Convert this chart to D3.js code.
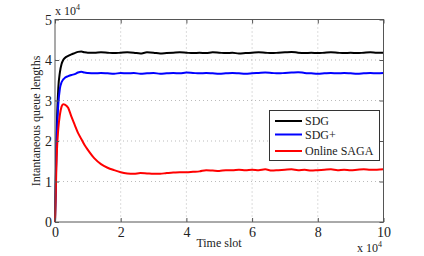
<!DOCTYPE html>
<html><head><meta charset="utf-8">
<script src="https://cdn.jsdelivr.net/npm/d3@7"></script>
<style>body{margin:0;background:#fff}svg{display:block}text{font-family:"Liberation Serif","DejaVu Serif",serif !important;fill:#222}</style>
</head><body>
<svg id="c" width="424" height="256"></svg>
<script>
const timeSlots = [0,0.05,0.1,0.15,0.2,0.25,0.3,0.4,0.5,0.6,0.7,0.8,0.9,1.0,1.2,1.4,1.6,1.8,2.0,2.2,2.4,2.6,2.8,3.0,3.2,3.4,3.6,3.8,4.0,4.2,4.4,4.6,4.8,5.0,5.2,5.4,5.6,5.8,6.0,6.2,6.4,6.6,6.8,7.0,7.2,7.4,7.6,7.8,8.0,8.2,8.4,8.6,8.8,9.0,9.2,9.4,9.6,9.8,10.0];
const sdg = [0,2.2,3.3,3.7,3.9,4.0,4.05,4.1,4.14,4.17,4.2,4.21,4.19,4.18,4.18,4.19,4.18,4.17,4.18,4.19,4.18,4.16,4.19,4.18,4.16,4.17,4.18,4.19,4.18,4.17,4.18,4.17,4.19,4.18,4.17,4.18,4.16,4.17,4.18,4.19,4.18,4.17,4.18,4.19,4.2,4.18,4.17,4.18,4.17,4.18,4.19,4.18,4.17,4.18,4.17,4.18,4.19,4.18,4.18];
const sdgPlus = [0,2.0,2.9,3.3,3.45,3.52,3.56,3.6,3.63,3.65,3.69,3.71,3.69,3.68,3.67,3.68,3.67,3.66,3.68,3.67,3.68,3.66,3.67,3.68,3.66,3.67,3.68,3.67,3.69,3.68,3.67,3.68,3.67,3.66,3.67,3.68,3.67,3.66,3.67,3.68,3.69,3.68,3.67,3.68,3.69,3.7,3.68,3.67,3.66,3.67,3.68,3.67,3.68,3.67,3.66,3.67,3.68,3.67,3.68];
const onlineSaga = [0,1.6,2.3,2.65,2.85,2.91,2.9,2.82,2.6,2.4,2.2,2.05,1.9,1.78,1.57,1.43,1.34,1.28,1.23,1.2,1.19,1.21,1.2,1.19,1.19,1.21,1.22,1.23,1.23,1.24,1.25,1.28,1.27,1.26,1.28,1.28,1.29,1.28,1.29,1.28,1.30,1.27,1.28,1.29,1.3,1.28,1.29,1.27,1.28,1.29,1.3,1.28,1.29,1.28,1.29,1.3,1.29,1.29,1.3];
const seriesNames = ["SDG","SDG+","Online SAGA"];
const seriesColors = ["#000000","#0000ff","#ff0000"];
const xTicks = [0,2,4,6,8,10];
const yTicks = [0,1,2,3,4,5];

const svg = d3.select("#c");
const L=55,R=383.5,T=19.5,B=222;
const x = d3.scaleLinear().domain([0,10]).range([L,R]);
const y = d3.scaleLinear().domain([0,5]).range([B,T]);
const FF = '"Liberation Serif", "DejaVu Serif", serif';

// grid
const g = svg.append("g");
g.selectAll(".gx").data(xTicks.slice(1,-1)).enter().append("line")
 .attr("x1",d=>x(d)).attr("x2",d=>x(d)).attr("y1",T).attr("y2",B)
 .attr("stroke","#aaa").attr("stroke-width",0.8).attr("stroke-dasharray","1,3");
g.selectAll(".gy").data(yTicks.slice(1,-1)).enter().append("line")
 .attr("y1",d=>y(d)).attr("y2",d=>y(d)).attr("x1",L).attr("x2",R)
 .attr("stroke","#aaa").attr("stroke-width",0.8).attr("stroke-dasharray","1,3");

// lines
const all = [sdg, sdgPlus, onlineSaga];
const line = d3.line().x((d,i)=>x(timeSlots[i])).y(d=>y(d)).curve(d3.curveMonotoneX);
all.forEach((s,k)=>{
  svg.append("path").datum(s).attr("d",line).attr("fill","none")
    .attr("stroke",seriesColors[k]).attr("stroke-width",2).attr("stroke-linejoin","round");
});

// axes box
svg.append("rect").attr("x",L).attr("y",T).attr("width",R-L).attr("height",B-T)
 .attr("fill","none").attr("stroke","#555").attr("stroke-width",1);

const xb = d3.axisBottom(x).tickValues(xTicks).tickSize(-4).tickFormat(d3.format("d"));
const xa = svg.append("g").attr("transform",`translate(0,${B})`).call(xb);
const xt = d3.axisTop(x).tickValues(xTicks).tickSize(-4).tickFormat("");
svg.append("g").attr("transform",`translate(0,${T})`).call(xt);
const yl = d3.axisLeft(y).tickValues(yTicks).tickSize(-4).tickFormat(d3.format("d"));
const ya = svg.append("g").attr("transform",`translate(${L},0)`).call(yl);
const yr = d3.axisRight(y).tickValues(yTicks).tickSize(-4).tickFormat("");
svg.append("g").attr("transform",`translate(${R},0)`).call(yr);
svg.selectAll(".domain").remove();
svg.selectAll("g").attr("font-family",FF);
svg.selectAll(".tick line").attr("stroke","#555");
xa.selectAll("text").attr("font-size",14).attr("dy",null).attr("y",15).attr("fill","#222");
ya.selectAll("text").attr("font-size",14).attr("x",-3).attr("dy","0.35em").attr("fill","#222");

// multipliers
const m1 = svg.append("text").attr("x",55).attr("y",15).attr("font-size",12);
m1.append("tspan").text("x 10");
m1.append("tspan").attr("font-size",8).attr("dy",-5).text("4");
const m2 = svg.append("text").attr("x",357).attr("y",252).attr("font-size",12);
m2.append("tspan").text("x 10");
m2.append("tspan").attr("font-size",8).attr("dy",-5).text("4");

// labels
svg.append("text").attr("x",219).attr("y",247).attr("text-anchor","middle").attr("font-size",12).text("Time slot");
svg.append("text").attr("transform","translate(40,121) rotate(-90)").attr("text-anchor","middle").attr("font-size",12).text("Intantaneous queue lengths");

// legend
const lg = svg.append("g");
lg.append("rect").attr("x",269.5).attr("y",110.5).attr("width",110).attr("height",50).attr("fill","#fff").attr("stroke","#333").attr("stroke-width",1);
const ly = [121,134.5,151];
seriesNames.forEach((n,k)=>{
  lg.append("line").attr("x1",275).attr("x2",302).attr("y1",ly[k]).attr("y2",ly[k]).attr("stroke",seriesColors[k]).attr("stroke-width",2);
  lg.append("text").attr("x",305).attr("y",ly[k]).attr("dy","0.35em").attr("font-size",12).text(n);
});
</script>
</body></html>
